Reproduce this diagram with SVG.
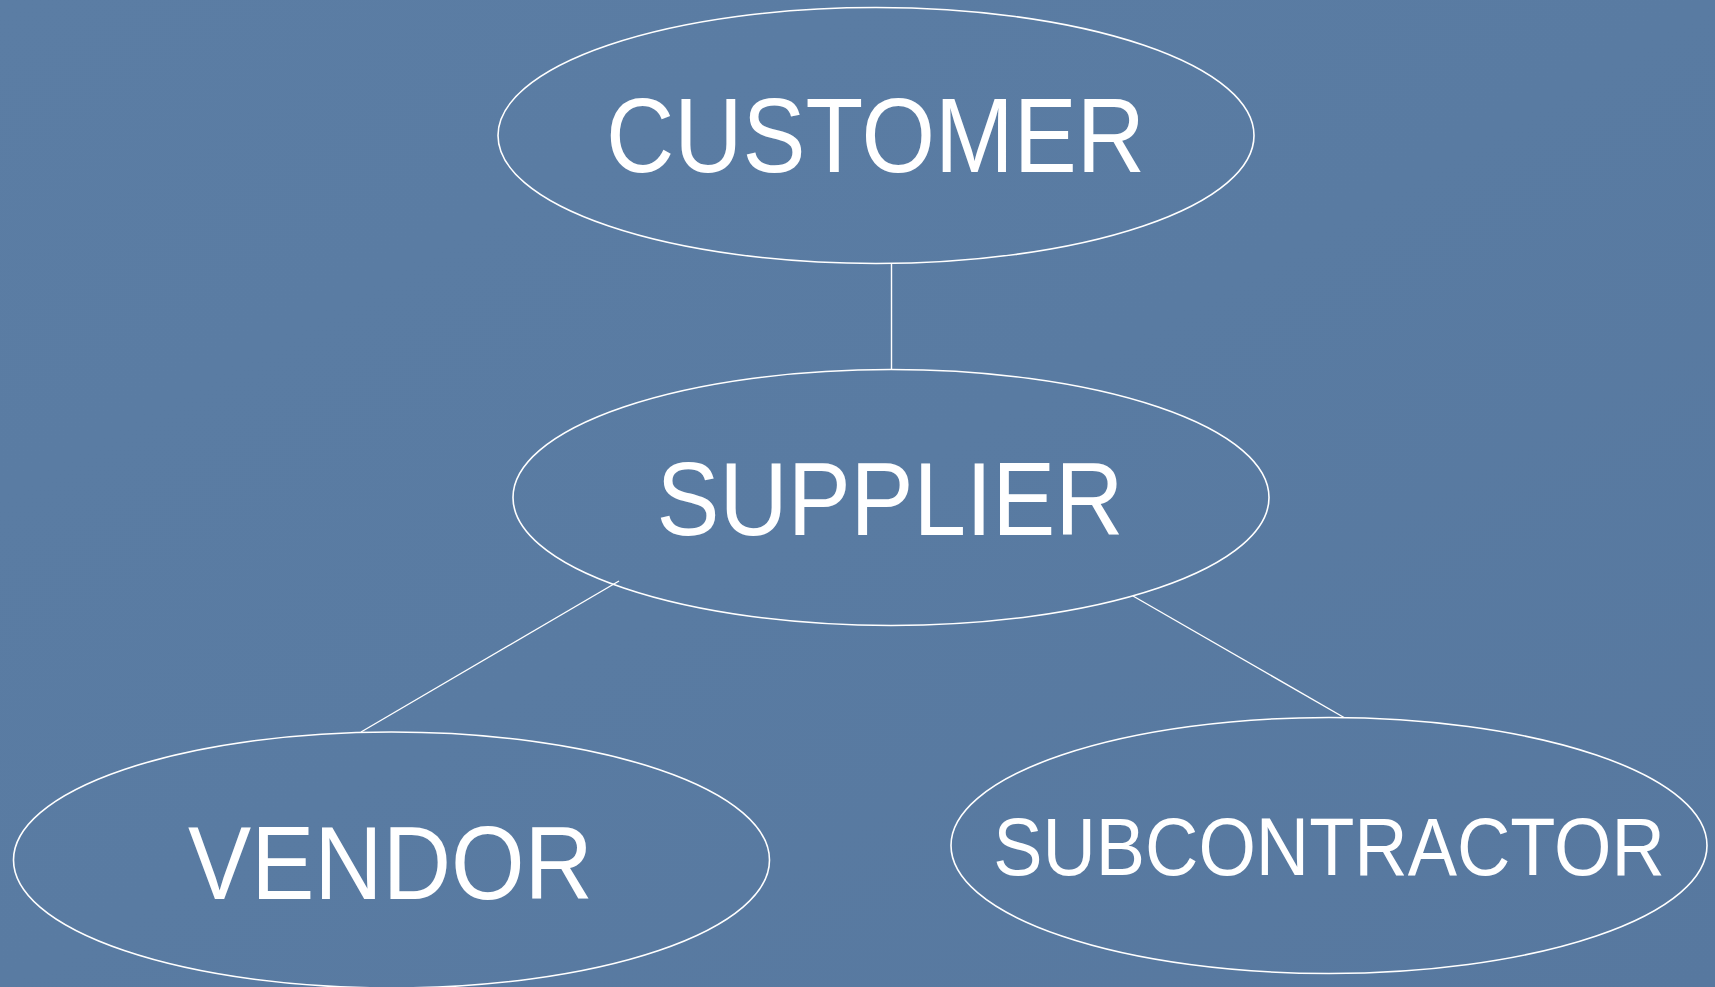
<svg xmlns="http://www.w3.org/2000/svg" width="1715" height="987" viewBox="0 0 1715 987">
  <style>
    .node ellipse { fill: none; stroke: #ffffff; stroke-width: 1.6; }
    .node text { fill: #ffffff; font-family: "Liberation Sans", Arial, sans-serif; text-anchor: middle; }
    .conn line { stroke: #ffffff; stroke-width: 1.4; }
  </style>
  <defs>
    <linearGradient id="bg" x1="0" y1="0" x2="1" y2="1">
      <stop offset="0" stop-color="#5b7da4"/>
      <stop offset="0.5" stop-color="#597ba2"/>
      <stop offset="1" stop-color="#57789f"/>
    </linearGradient>
  </defs>
  <rect width="1715" height="987" fill="url(#bg)"/>
  <g id="connectors" class="conn">
    <line x1="891.5" y1="263.5" x2="891.5" y2="369.5"/>
    <line x1="619" y1="581" x2="361" y2="732"/>
    <line x1="1133" y1="596" x2="1344" y2="717.5"/>
  </g>
  <g id="customer" class="node">
    <ellipse cx="876" cy="135.5" rx="378" ry="128"/>
    <text transform="translate(875.5,171.5) scale(0.9,1)" font-size="105">CUSTOMER</text>
  </g>
  <g id="supplier" class="node">
    <ellipse cx="891" cy="497.5" rx="378" ry="128"/>
    <text transform="translate(890,535) scale(0.917,1)" font-size="103">SUPPLIER</text>
  </g>
  <g id="vendor" class="node">
    <ellipse cx="391.5" cy="860" rx="378" ry="128"/>
    <text transform="translate(390.5,899) scale(0.919,1)" font-size="103">VENDOR</text>
  </g>
  <g id="subcontractor" class="node">
    <ellipse cx="1329" cy="845.5" rx="378" ry="128"/>
    <text transform="translate(1329,874.5) scale(0.912,1)" font-size="81">SUBCONTRACTOR</text>
  </g>
</svg>
